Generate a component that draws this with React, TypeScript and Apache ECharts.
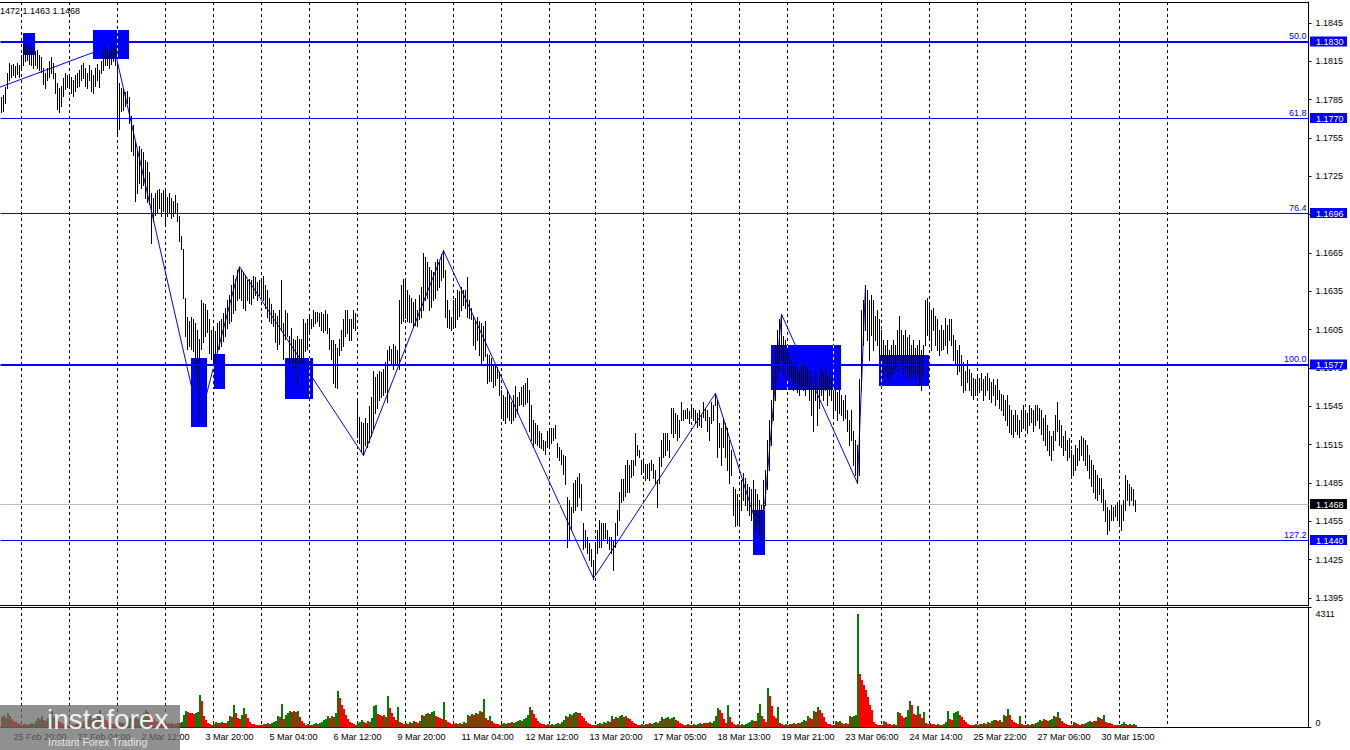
import React, { useEffect, useRef } from "react";
import * as echarts from "echarts";

// ---------- DATA (prices stored as pips above 1.1000, i.e. price = 1.1 + v / 10000) ----------
// one H1 bar per entry, 25 Feb 14:00 ... 31 Mar 08:00
const HIGH = [
  787, 789, 795, 806, 814, 812, 813, 811, 814, 812,
  820, 826, 829, 830, 828, 826, 824, 823, 824, 820, 818, 810, 806, 810, 815, 818, 814, 806, 798, 794, 796, 802, 806, 804,
  805, 803, 800, 804, 806, 808, 812, 814, 810, 806, 812, 808, 804, 810, 813, 808, 815, 822, 826, 824, 822, 826, 828, 825,
  812, 798, 794, 793, 791, 792, 787, 772, 765, 752, 745, 749, 746, 744, 738, 736, 728, 712, 708, 712, 714, 715, 712, 714,
  714, 709, 712, 708, 706, 710, 704, 694, 678, 668, 630, 615, 612, 615, 613, 610, 605, 598, 628, 626, 625, 620, 613, 605,
  608, 604, 610, 612, 613, 618, 622, 628, 632, 640, 648, 645, 652, 654, 652, 650, 648, 644, 645, 644, 647, 646, 642, 644,
  645, 647, 640, 636, 630, 625, 620, 618, 616, 620, 644, 610, 620, 618, 600, 606, 598, 597, 600, 598, 598, 613, 610, 613,
  615, 613, 620, 619, 619, 618, 619, 617, 620, 617, 606, 597, 597, 594, 591, 598, 605, 613, 620, 620, 613, 613, 620, 618,
  550, 537, 533, 532, 536, 532, 545, 552, 573, 568, 570, 573, 572, 574, 580, 589, 592, 590, 594, 592, 589, 628, 640, 645,
  645, 636, 632, 630, 627, 629, 620, 632, 638, 665, 662, 658, 654, 652, 650, 658, 660, 658, 664, 667, 652, 628, 620, 615,
  628, 630, 636, 635, 638, 636, 636, 646, 628, 622, 616, 612, 615, 612, 610, 608, 612, 586, 585, 583, 578, 578, 576, 572,
  558, 554, 552, 558, 554, 548, 554, 561, 552, 556, 560, 562, 563, 567, 558, 546, 534, 532, 530, 526, 524, 519, 518, 526,
  526, 528, 528, 530, 516, 513, 511, 507, 506, 474, 472, 466, 485, 487, 490, 493, 484, 454, 448, 443, 438, 433, 425,
  437, 448, 456, 454, 454, 454, 448, 443, 443, 440, 454, 464, 478, 488, 488, 499, 503, 499, 503, 503, 524, 515, 511, 503,
  503, 500, 500, 501, 503, 500, 495, 487, 505, 519, 524, 524, 524, 519, 544, 544, 540, 538, 534, 548, 542, 542, 544, 541,
  545, 544, 542, 540, 542, 538, 548, 544, 542, 537, 548, 546, 555, 550, 532, 528, 536, 532, 528, 519, 511, 482, 480, 476,
  472, 487, 493, 489, 484, 482, 480, 487, 480, 476, 472, 468, 487, 495, 519, 534, 550, 573, 593, 605, 613, 617, 600, 597,
  589, 585, 581, 577, 580, 576, 573, 577, 580, 577, 578, 573, 569, 561, 573, 561, 569, 577, 571, 574, 569, 571, 566,
  558, 560, 556, 558, 554, 550, 554, 542, 534, 542, 526, 519, 515, 566, 620, 628, 640, 636, 628, 632, 628, 616, 620, 613,
  605, 597, 593, 597, 589, 593, 597, 593, 605, 616, 605, 601, 605, 599, 601, 593, 597, 591, 593, 597, 589, 593, 628, 630,
  625, 620, 622, 616, 613, 605, 609, 605, 614, 609, 613, 613, 601, 597, 589, 593, 585, 580, 573, 581, 574, 571, 567, 566,
  569, 567, 571, 566, 569, 571, 567, 564, 566, 562, 566, 558, 555, 554, 550, 554, 546, 542, 538, 542, 538, 534, 542, 546,
  542, 540, 546, 544, 542, 546, 546, 544, 542, 536, 538, 530, 526, 522, 526, 538, 548, 534, 530, 522, 526, 519, 520,
  511, 507, 515, 512, 519, 522, 520, 519, 515, 507, 503, 499, 495, 491, 489, 489, 480, 472, 466, 464, 468, 466, 468, 470,
  472, 468, 472, 491, 487, 484, 482, 480, 472,
];
const LOW = [
  775, 776, 782, 794, 800, 803, 804, 803, 805, 803,
  808, 812, 815, 816, 813, 812, 810, 812, 810, 808, 807, 797, 794, 800, 803, 806, 802, 790, 778, 775, 780, 788, 793, 795,
  794, 790, 788, 792, 795, 796, 800, 802, 796, 794, 800, 792, 790, 796, 800, 795, 806, 808, 812, 812, 810, 813, 815, 812,
  758, 762, 776, 777, 780, 782, 767, 745, 742, 706, 712, 720, 716, 718, 708, 705, 703, 673, 690, 695, 696, 700, 694, 698,
  688, 694, 696, 692, 694, 696, 690, 674, 668, 630, 600, 590, 592, 590, 588, 575, 560, 533, 590, 595, 600, 603, 587, 582,
  580, 577, 588, 590, 592, 596, 600, 606, 610, 612, 618, 620, 628, 630, 628, 622, 620, 628, 626, 625, 630, 632, 628, 632,
  630, 628, 622, 615, 612, 610, 608, 595, 590, 594, 605, 582, 598, 600, 578, 583, 575, 576, 562, 576, 578, 580, 588, 590,
  604, 606, 608, 610, 612, 608, 605, 603, 605, 602, 590, 582, 563, 560, 559, 585, 589, 592, 600, 602, 597, 597, 606, 605,
  521, 516, 510, 507, 515, 513, 517, 522, 527, 540, 544, 550, 552, 554, 556, 548, 581, 578, 574, 578, 579, 574, 610, 612,
  614, 612, 611, 611, 607, 609, 608, 613, 615, 620, 628, 630, 620, 623, 628, 630, 636, 638, 644, 646, 615, 607, 606, 605,
  606, 607, 613, 616, 620, 624, 622, 615, 614, 613, 593, 590, 597, 585, 579, 581, 584, 563, 565, 565, 560, 562, 567, 554,
  537, 534, 532, 537, 534, 532, 534, 537, 540, 546, 547, 545, 547, 548, 526, 519, 513, 516, 515, 513, 512, 511, 508, 513,
  513, 516, 519, 520, 505, 503, 500, 492, 484, 435, 440, 448, 462, 464, 467, 474, 464, 433, 435, 430, 425, 420, 410,
  415, 430, 435, 435, 440, 442, 438, 433, 430, 417, 435, 444, 456, 470, 472, 475, 478, 478, 490, 491, 499, 507, 505, 492,
  495, 487, 489, 487, 495, 489, 485, 466, 485, 498, 505, 507, 511, 505, 524, 521, 524, 519, 521, 534, 534, 536, 536, 532,
  537, 534, 532, 529, 530, 529, 537, 534, 526, 519, 532, 534, 546, 505, 513, 499, 513, 505, 495, 485, 491, 460, 451, 452,
  451, 464, 472, 468, 464, 460, 456, 460, 448, 452, 444, 440, 464, 468, 480, 495, 515, 534, 550, 566, 573, 581, 570, 577,
  566, 566, 568, 558, 563, 556, 554, 561, 558, 554, 561, 550, 538, 526, 550, 530, 544, 554, 550, 558, 546, 554, 550,
  538, 542, 534, 540, 538, 534, 536, 526, 515, 519, 499, 491, 485, 491, 558, 593, 605, 597, 581, 601, 589, 597, 593, 585,
  581, 570, 573, 566, 567, 571, 570, 575, 573, 581, 577, 570, 575, 571, 566, 567, 573, 567, 571, 562, 558, 570, 593, 601,
  597, 589, 605, 593, 589, 585, 589, 590, 593, 587, 597, 593, 581, 577, 570, 573, 562, 556, 558, 564, 558, 554, 551, 554,
  554, 556, 558, 550, 554, 558, 551, 548, 554, 546, 551, 544, 542, 538, 534, 530, 525, 523, 521, 526, 523, 521, 526, 528,
  528, 524, 530, 533, 526, 530, 534, 528, 523, 519, 515, 511, 507, 503, 511, 519, 526, 515, 513, 507, 511, 503, 505,
  489, 491, 495, 499, 503, 507, 503, 499, 495, 489, 483, 478, 473, 472, 476, 470, 464, 455, 445, 448, 456, 456, 459, 456,
  452, 448, 456, 464, 472, 468, 472, 468, 463,
];
// tick volume per bar
const VOLUME = [
  380, 456, 342, 532, 418, 304, 228, 190, 152, 114,
  76, 114, 114, 76, 114, 152, 114, 228, 342, 304, 418, 266, 228, 342, 456, 608, 380, 304, 228, 190, 152, 114, 114, 76,
  76, 114, 76, 114, 114, 152, 152, 228, 380, 304, 456, 266, 342, 304, 494, 646, 418, 342, 266, 190, 152, 114, 114, 76,
  114, 190, 152, 152, 228, 266, 342, 494, 380, 456, 304, 342, 418, 532, 646, 570, 456, 380, 304, 228, 190, 152, 114, 114,
  114, 152, 114, 152, 114, 114, 152, 152, 190, 456, 608, 570, 532, 532, 494, 532, 570, 1216, 988, 418, 266, 152, 114, 76,
  114, 190, 152, 152, 190, 152, 152, 228, 418, 380, 836, 532, 342, 304, 456, 722, 494, 342, 190, 114, 114, 76, 76, 76,
  76, 114, 114, 152, 114, 152, 190, 228, 418, 380, 874, 304, 456, 532, 608, 570, 608, 570, 608, 380, 228, 152, 76, 114,
  76, 76, 114, 152, 114, 152, 190, 266, 304, 418, 342, 418, 380, 532, 1368, 1102, 836, 684, 456, 304, 190, 152, 114, 76,
  152, 190, 266, 190, 152, 228, 190, 342, 798, 836, 494, 456, 418, 456, 380, 1178, 722, 532, 380, 266, 760, 190, 152, 114,
  152, 114, 190, 152, 228, 190, 152, 228, 456, 418, 494, 532, 494, 570, 608, 418, 380, 342, 304, 950, 266, 190, 152, 114,
  114, 152, 114, 152, 114, 190, 152, 456, 418, 494, 456, 532, 494, 608, 570, 1064, 342, 266, 418, 228, 152, 114, 114, 76,
  114, 152, 114, 152, 152, 190, 152, 190, 228, 266, 228, 304, 342, 456, 760, 646, 494, 342, 228, 152, 114, 114, 76, 114,
  76, 114, 76, 114, 152, 114, 190, 266, 418, 380, 494, 456, 532, 570, 532, 532, 418, 342, 228, 152, 114, 76, 76,
  76, 114, 152, 114, 190, 152, 228, 190, 418, 304, 380, 342, 418, 456, 380, 418, 342, 304, 228, 152, 114, 76, 76, 114,
  76, 114, 114, 152, 114, 152, 190, 152, 228, 380, 304, 342, 380, 304, 342, 380, 266, 228, 152, 114, 76, 76, 114, 76,
  76, 114, 76, 114, 152, 114, 152, 152, 152, 190, 152, 228, 418, 722, 646, 532, 304, 152, 836, 380, 190, 114, 76, 114,
  76, 114, 76, 114, 152, 190, 266, 228, 228, 532, 874, 418, 304, 190, 1482, 1178, 798, 418, 342, 760, 152, 114, 76, 114,
  76, 114, 114, 152, 114, 152, 152, 190, 266, 228, 418, 342, 304, 608, 570, 760, 646, 532, 380, 190, 114, 114, 76,
  76, 228, 190, 228, 152, 114, 152, 114, 418, 380, 418, 456, 4311, 2014, 1786, 1596, 1406, 1140, 836, 646, 190, 114, 76, 76,
  76, 228, 190, 114, 114, 76, 114, 76, 570, 532, 418, 342, 380, 646, 988, 836, 494, 456, 798, 494, 342, 570, 152, 114,
  152, 114, 114, 76, 114, 76, 76, 114, 190, 608, 304, 266, 532, 570, 608, 456, 380, 266, 190, 114, 76, 76, 76, 114,
  76, 114, 114, 152, 114, 190, 152, 228, 266, 266, 228, 266, 190, 456, 418, 684, 456, 266, 190, 152, 114, 418, 114, 76,
  76, 114, 76, 114, 114, 152, 190, 266, 228, 304, 266, 228, 266, 304, 418, 380, 570, 342, 228, 152, 114, 76, 76,
  76, 190, 152, 114, 76, 114, 114, 152, 190, 228, 190, 228, 228, 380, 342, 304, 456, 190, 152, 152, 114, 76, 76, 76,
  76, 114, 190, 114, 76, 114, 76, 114, 76,
];
// bar index of each day's 00:00 bar (vertical grid)
const DAY_START = [10, 34, 58, 82, 106, 130, 154, 178, 202, 226, 250, 274, 297, 321, 345, 369, 393, 416, 440, 464, 488, 512, 535, 559, 583];
const TIME_LABEL_IDX = [6, 38, 70, 102, 134, 166, 198, 230, 262, 294, 326, 358, 390, 422, 454, 486, 518, 550];
const TIME_LABELS = [
  "25 Feb 20:00", "27 Feb 04:00", "2 Mar 12:00", "3 Mar 20:00", "5 Mar 04:00", "6 Mar 12:00",
  "9 Mar 20:00", "11 Mar 04:00", "12 Mar 12:00", "13 Mar 20:00", "17 Mar 05:00", "18 Mar 13:00",
  "19 Mar 21:00", "23 Mar 06:00", "24 Mar 14:00", "25 Mar 22:00", "27 Mar 06:00", "30 Mar 15:00",
];
const PRICE_TICKS = [1.1395, 1.1425, 1.1455, 1.1485, 1.1515, 1.1545, 1.1575, 1.1605, 1.1635, 1.1665, 1.1695, 1.1725, 1.1755, 1.1785, 1.1815, 1.1845];
const LEVEL_PRICES = [1.183, 1.177, 1.1696, 1.1577, 1.144];
const LEVEL_NAMES = ["50.0", "61.8", "76.4", "100.0", "127.2"];
const CURRENT_PRICE = 1.1468;
// zigzag pivots: [bar index, price]
const ZIGZAG = [
  [-1, 1.17946], [56, 1.18278], [99, 1.15331], [119, 1.16543], [181, 1.15065], [221, 1.16668],
  [296, 1.14104], [357, 1.15552], [380, 1.14402], [390, 1.1617], [428, 1.14848], [432, 1.164],
];
// blue boxes: [from bar, to bar, top price, bottom price]
const BOXES = [
  [10.6, 16.75, 1.18372, 1.18202],
  [45.75, 63.6, 1.18395, 1.18171],
  [94.75, 102.6, 1.15828, 1.15291],
  [105.9, 111.75, 1.15859, 1.15588],
  [141.75, 155.6, 1.15828, 1.1551],
  [375.75, 381.6, 1.14641, 1.14289],
  [384.75, 419.6, 1.1593, 1.1558],
  [438.75, 463.9, 1.15852, 1.15612],
];
const VOL_MAX_LABEL = 4311;
const OHLC_TEXT = "1472 1.1463 1.1468";

// ---------- LAYOUT / STYLE ----------
const FONT = '"Liberation Sans", Arial, sans-serif';
const N_SLOTS = 654;
const X_MIN = -0.5;
const X_MAX = N_SLOTS - 0.5;
const P_MIN = 1.13895;
const P_MAX = 1.18614;
const V_MAX = 4577;
const LEVEL_WIDTH = [2, 1, 1, 2, 1];
const BLUE = "#0000ff";

const toPrice = (v: number) => 1.1 + v / 10000;

function buildOption(): any {
  const barData = HIGH.map((h, i) => [i, toPrice(h), toPrice(LOW[i])]);
  const volData = VOLUME.map((v, i) => [i, v, i > 0 && v > VOLUME[i - 1] ? 1 : 0]);

  const gridLineItem = (yVal: number) => (params: any, api: any) => {
    const cs = params.coordSys;
    const x = Math.round(api.coord([api.value(0), yVal])[0] - 0.5) + 0.5;
    return {
      type: "line",
      shape: { x1: x, y1: cs.y, x2: x, y2: cs.y + cs.height },
      style: { stroke: "#000", lineWidth: 1, lineDash: [3, 3] },
    };
  };

  const hiddenX = (gridIndex: number, position: string) => ({
    type: "value",
    gridIndex,
    position,
    min: X_MIN,
    max: X_MAX,
    axisLine: { show: true, onZero: false, lineStyle: { color: "#000", width: 1 } },
    axisTick: { show: false },
    axisLabel: { show: false },
    splitLine: { show: false },
  });

  const gearTeeth = Array.from({ length: 8 }, (_, k) => ({
    type: "rect",
    shape: { x: -3, y: -17, width: 6, height: 6 },
    rotation: (k * Math.PI) / 4,
    style: { fill: "rgba(255,255,255,0.85)" },
  }));

  return {
    animation: false,
    backgroundColor: "#ffffff",
    textStyle: { fontFamily: FONT },
    grid: [
      { left: 0.5, top: 2, width: 1308, height: 603 },
      { left: 0.5, top: 607, width: 1308, height: 120.5 },
    ],
    xAxis: [
      hiddenX(0, "bottom"),
      hiddenX(0, "top"),
      {
        ...hiddenX(1, "bottom"),
        axisLabel: {
          show: true,
          customValues: TIME_LABEL_IDX,
          formatter: (v: number) => {
            const k = TIME_LABEL_IDX.indexOf(Math.round(v));
            return k >= 0 ? TIME_LABELS[k] : "";
          },
          align: "left",
          color: "#000",
          fontSize: 9,
          fontFamily: FONT,
          margin: 5,
        },
      },
      hiddenX(1, "top"),
    ],
    yAxis: [
      {
        type: "value",
        gridIndex: 0,
        position: "right",
        min: P_MIN,
        max: P_MAX,
        axisLine: { show: true, onZero: false, lineStyle: { color: "#000", width: 1 } },
        axisTick: { show: true, length: 3, customValues: PRICE_TICKS, lineStyle: { color: "#000" } },
        axisLabel: {
          show: true,
          customValues: PRICE_TICKS,
          formatter: (v: number) => v.toFixed(4),
          color: "#000",
          fontSize: 9,
          fontFamily: FONT,
          margin: 7,
        },
        splitLine: { show: false },
      },
      {
        type: "value",
        gridIndex: 1,
        position: "right",
        min: 0,
        max: V_MAX,
        axisLine: { show: true, onZero: false, lineStyle: { color: "#000", width: 1 } },
        axisTick: { show: true, length: 3, customValues: [0, V_MAX], lineStyle: { color: "#000" } },
        axisLabel: {
          show: true,
          customValues: [0, VOL_MAX_LABEL],
          formatter: (v: number) => (v === 0 ? "{z|0}" : `{t|${v}}`),
          margin: 7,
          rich: {
            z: { fontSize: 9, fontFamily: FONT, color: "#000", padding: [0, 0, 9, 0] },
            t: { fontSize: 9, fontFamily: FONT, color: "#000" },
          },
        },
        splitLine: { show: false },
      },
    ],
    series: [
      // vertical dashed grid (price pane)
      {
        type: "custom",
        xAxisIndex: 0,
        yAxisIndex: 0,
        z: 1,
        silent: true,
        clip: false,
        encode: { x: 0, y: 1 },
        data: DAY_START.map((d) => [d, P_MIN]),
        renderItem: gridLineItem(P_MIN),
      },
      // vertical dashed grid (volume pane)
      {
        type: "custom",
        xAxisIndex: 2,
        yAxisIndex: 1,
        z: 1,
        silent: true,
        clip: false,
        encode: { x: 0, y: 1 },
        data: DAY_START.map((d) => [d, 0]),
        renderItem: gridLineItem(0),
      },
      // zigzag
      {
        type: "line",
        xAxisIndex: 0,
        yAxisIndex: 0,
        z: 2,
        silent: true,
        symbol: "none",
        showSymbol: false,
        clip: true,
        lineStyle: { color: BLUE, width: 1 },
        data: ZIGZAG,
      },
      // blue boxes
      {
        type: "custom",
        xAxisIndex: 0,
        yAxisIndex: 0,
        z: 3,
        silent: true,
        clip: true,
        encode: { x: [0, 1], y: [2, 3] },
        data: BOXES,
        renderItem: (params: any, api: any) => {
          const i0 = api.value(0);
          const i1 = api.value(1);
          const pt = api.value(2);
          const pb = api.value(3);
          const a = api.coord([i0, pt]);
          const b = api.coord([i1, pb]);
          const x0 = Math.round(a[0]);
          const x1 = Math.round(b[0]);
          const y0 = Math.round(a[1]);
          const y1 = Math.round(b[1]);
          const children: any[] = [
            { type: "rect", shape: { x: x0, y: y0, width: x1 - x0, height: y1 - y0 }, style: { fill: BLUE } },
          ];
          DAY_START.forEach((d) => {
            if (d > i0 && d < i1) {
              const x = Math.round(api.coord([d, pt])[0] - 0.5) + 0.5;
              children.push({
                type: "line",
                shape: { x1: x, y1: y0, x2: x, y2: y1 },
                style: { stroke: "#ffff00", lineWidth: 1, lineDash: [3, 3] },
              });
            }
          });
          return { type: "group", children };
        },
      },
      // current price line
      {
        type: "custom",
        xAxisIndex: 0,
        yAxisIndex: 0,
        z: 3,
        silent: true,
        clip: false,
        encode: { x: 0, y: 1 },
        data: [[0, CURRENT_PRICE]],
        renderItem: (params: any, api: any) => {
          const cs = params.coordSys;
          const p = api.value(1);
          const y = Math.round(api.coord([0, p])[1] - 0.5) + 0.5;
          const right = cs.x + cs.width;
          return {
            type: "group",
            children: [
              { type: "line", shape: { x1: cs.x, y1: y, x2: right, y2: y }, style: { stroke: "#c0c0c0", lineWidth: 1 } },
              { type: "rect", shape: { x: right + 1.5, y: y - 5.5, width: 37, height: 10 }, style: { fill: "#000" }, z2: 10 },
              {
                type: "text",
                x: right + 7.5,
                y: y,
                style: { text: p.toFixed(4), fill: "#fff", font: `9px ${FONT}`, align: "left", verticalAlign: "middle" },
                z2: 11,
              },
            ],
          };
        },
      },
      // price bars (high-low)
      {
        type: "custom",
        xAxisIndex: 0,
        yAxisIndex: 0,
        z: 4,
        silent: true,
        clip: true,
        encode: { x: 0, y: [1, 2] },
        data: barData,
        renderItem: (params: any, api: any) => {
          const i = api.value(0);
          const hi = api.coord([i, api.value(1)]);
          const lo = api.coord([i, api.value(2)]);
          const x = Math.round(hi[0] - 0.5) + 0.5;
          return {
            type: "line",
            shape: { x1: x, y1: Math.round(hi[1]), x2: x, y2: Math.round(lo[1]) + 1 },
            style: { stroke: "#000", lineWidth: 1 },
          };
        },
      },
      // level lines
      {
        type: "custom",
        xAxisIndex: 0,
        yAxisIndex: 0,
        z: 5,
        silent: true,
        clip: false,
        encode: { x: 1, y: 0 },
        data: LEVEL_PRICES.map((p, k) => [p, k]),
        renderItem: (params: any, api: any) => {
          const cs = params.coordSys;
          const p = api.value(0);
          const k = api.value(1);
          const w = LEVEL_WIDTH[k];
          const yRaw = api.coord([0, p])[1];
          const y = w === 1 ? Math.round(yRaw - 0.5) + 0.5 : Math.round(yRaw);
          const right = cs.x + cs.width;
          return {
            type: "group",
            children: [
              { type: "line", shape: { x1: cs.x, y1: y, x2: right, y2: y }, style: { stroke: BLUE, lineWidth: w } },
              {
                type: "text",
                x: right - 2,
                y: y - 1.5,
                style: { text: LEVEL_NAMES[k], fill: BLUE, font: `9px ${FONT}`, align: "right", verticalAlign: "bottom" },
              },
              { type: "rect", shape: { x: right + 1.5, y: y - 5.5, width: 37, height: 10 }, style: { fill: BLUE }, z2: 10 },
              {
                type: "text",
                x: right + 7.5,
                y: y,
                style: { text: p.toFixed(4), fill: "#fff", font: `9px ${FONT}`, align: "left", verticalAlign: "middle" },
                z2: 11,
              },
            ],
          };
        },
      },
      // volumes
      {
        type: "custom",
        xAxisIndex: 2,
        yAxisIndex: 1,
        z: 4,
        silent: true,
        clip: true,
        encode: { x: 0, y: 1 },
        data: volData,
        renderItem: (params: any, api: any) => {
          const i = api.value(0);
          const top = api.coord([i, api.value(1)]);
          const base = api.coord([i, 0]);
          const x = Math.floor(top[0]);
          const yt = Math.round(top[1]);
          return {
            type: "rect",
            shape: { x, y: yt, width: 2, height: Math.round(base[1]) - yt },
            style: { fill: api.value(2) ? "#008000" : "#ff0000" },
          };
        },
      },
    ],
    graphic: [
      {
        type: "text",
        left: 0,
        top: 6,
        z: 50,
        style: { text: OHLC_TEXT, fill: "#000", font: `9px ${FONT}` },
      },
      {
        type: "rect",
        z: 100,
        shape: { x: 0, y: 705, width: 180, height: 45 },
        style: { fill: "rgba(105,105,105,0.74)" },
      },
      {
        type: "group",
        x: 24,
        y: 727,
        z: 101,
        children: [
          { type: "ring", shape: { cx: 0, cy: 0, r: 13, r0: 7 }, style: { fill: "rgba(255,255,255,0.85)" } },
          ...gearTeeth,
          { type: "circle", shape: { cx: 0, cy: 0, r: 3.5 }, style: { fill: "rgba(255,255,255,0.85)" } },
        ],
      },
      {
        type: "text",
        x: 47,
        y: 705,
        z: 101,
        style: { text: "instaforex", fill: "rgba(255,255,255,0.9)", font: `28px ${FONT}` },
      },
      {
        type: "text",
        x: 48,
        y: 736,
        z: 101,
        style: { text: "Instant Forex Trading", fill: "rgba(240,240,240,0.9)", font: `10.5px ${FONT}` },
      },
    ],
  };
}

export default function App() {
  const ref = useRef<HTMLDivElement>(null);
  useEffect(() => {
    document.body.style.margin = "0";
    const chart = echarts.init(ref.current as HTMLDivElement, null, { renderer: "svg" });
    chart.setOption(buildOption());
    return () => chart.dispose();
  }, []);
  return (
    <div
      ref={ref}
      style={{ position: "absolute", left: 0, top: 0, width: 1350, height: 750, background: "#fff" }}
    />
  );
}
